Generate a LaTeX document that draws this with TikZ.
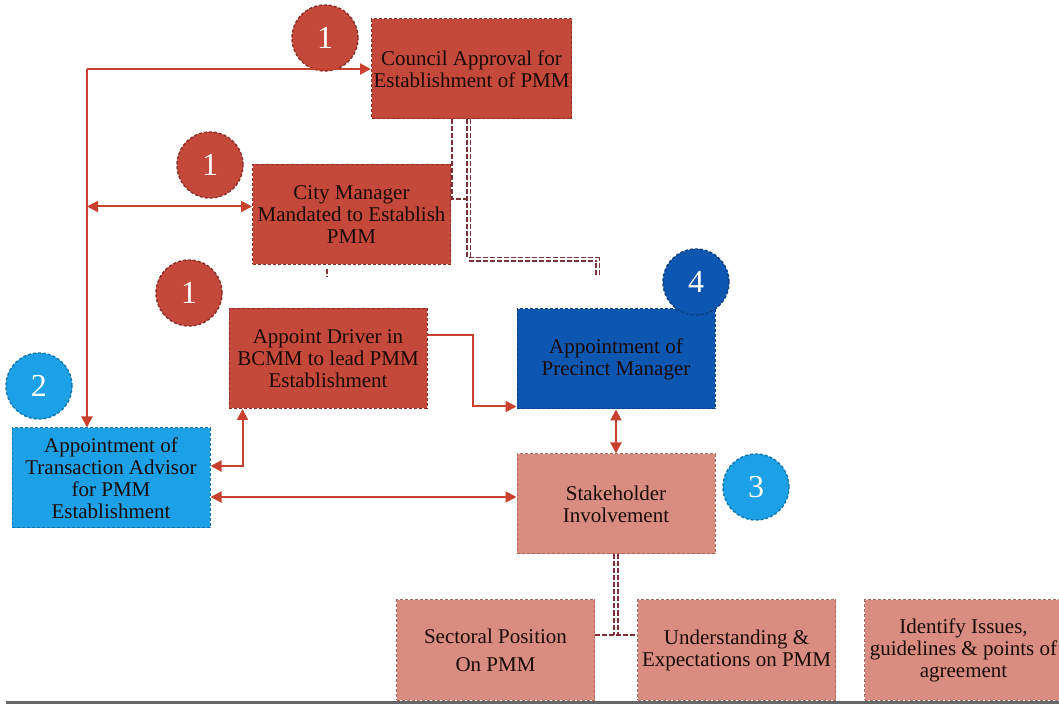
\documentclass[tikz,border=0pt]{standalone}
\usepackage{fontspec}
\setmainfont{Liberation Serif}
\usepackage{tikz}
\usetikzlibrary{arrows.meta,positioning,calc}
\definecolor{brick}{HTML}{C4493A}
\definecolor{brickdark}{HTML}{8A2C25}
\definecolor{maroon}{HTML}{7E2F33}
\definecolor{navy}{HTML}{0D57B0}
\definecolor{navydark}{HTML}{0A3F80}
\definecolor{sky}{HTML}{1CA0E6}
\definecolor{skydark}{HTML}{1276B0}
\definecolor{salmon}{HTML}{D98C80}
\definecolor{salmondark}{HTML}{B0665C}
\definecolor{arrowred}{HTML}{C8402E}
\definecolor{ink}{HTML}{1A0B09}

\begin{document}
\begin{tikzpicture}[x=0.5pt,y=-0.5pt,
  box/.style={rectangle,minimum width=99pt,minimum height=50pt,inner sep=1pt,
              align=center,text=ink,font=\fontsize{10.5}{11}\selectfont,
              dashed,dash pattern=on 1.5pt off 1pt,line width=0.5pt},
  redbox/.style={box,fill=brick,draw=brickdark},
  navybox/.style={box,fill=navy,draw=navydark},
  skybox/.style={box,fill=sky,draw=skydark},
  pinkbox/.style={box,fill=salmon,draw=salmondark},
  badge/.style={circle,minimum size=33pt,inner sep=0pt,text=white,
                font=\fontsize{16}{16}\selectfont,dashed,dash pattern=on 1.5pt off 1pt,
                line width=0.7pt},
  arr/.style={-{Triangle[length=5.5pt,width=5.5pt]},draw=arrowred,line width=1pt},
  dbl/.style={{Triangle[length=5.5pt,width=5.5pt]}-{Triangle[length=5.5pt,width=5.5pt]},
              draw=arrowred,line width=1pt},
  dsh/.style={draw=maroon,dashed,dash pattern=on 2.5pt off 1pt,line width=1pt},
  dshd/.style={draw=maroon,double=white,double distance=1pt,dashed,
               dash pattern=on 2.5pt off 1pt,line width=0.8pt}
]
\useasboundingbox (0,0) rectangle (1059,704);

% boxes
\node[redbox] (council) at (471.5,69) {Council Approval for\\Establishment of PMM};
\node[redbox] (city) at (351.5,214.5) {City Manager\\Mandated to Establish\\PMM};
\node[redbox] (driver) at (328,358.5) {Appoint Driver in\\BCMM to lead PMM\\Establishment};
\node[navybox] (precinct) at (616,359) {Appointment of\\Precinct Manager};
\node[skybox] (advisor) at (111,478) {Appointment of\\Transaction Advisor\\for PMM\\Establishment};
\node[pinkbox] (stake) at (616,504) {Stakeholder\\Involvement};
\node[pinkbox] (sect) at (495.5,650) {Sectoral Position\\[3pt]On PMM};
\node[pinkbox] (under) at (736.5,650) {Understanding \&\\Expectations on PMM};
\node[pinkbox] (issues) at (963.5,650) {Identify Issues,\\guidelines \& points of\\agreement};

% numbered badges
\node[badge,fill=brick,draw=brickdark] (b1a) at (325,38) {1};
\node[badge,fill=brick,draw=brickdark] (b1b) at (210,165) {1};
\node[badge,fill=brick,draw=brickdark] (b1c) at (189,293) {1};
\node[badge,fill=sky,draw=skydark] (b2) at (39,386) {2};
\node[badge,fill=navy,draw=navydark] (b4) at (696,282) {4};
\node[badge,fill=sky,draw=skydark] (b3) at (756,487) {3};

% arrows
\coordinate (corner) at (87,69);
\coordinate (cityin) at ([yshift=4pt]city.west);
\coordinate (advhi) at ([yshift=6pt]advisor.east);
\coordinate (advlo) at ([yshift=-9.5pt]advisor.east);
\draw[arr] (corner) -- (council.west);
\draw[arr] (corner) -- (corner |- advisor.north);
\draw[dbl] (corner |- cityin) -- (cityin);
\draw[dbl] (advhi) -| ([xshift=7pt]driver.south west);
\draw[dbl] (advlo) -- (advlo -| stake.west);
\draw[arr] ([yshift=11.75pt]driver.east) -- ++(45,0) |- ([yshift=1.5pt]precinct.south west);
\draw[dbl] (precinct.south) -- (stake.north);

% dashed links
\draw[dsh] ([xshift=-9.75pt]council.south) -- ++(0,80) -- ++(17,0);
\draw[dshd] ([xshift=-1.5pt]council.south) -- ++(0,140) -- ++(129,0) -- ++(0,17);
\draw[dsh] ([xshift=-12.25pt,yshift=-2pt]city.south) -- ++(0,8);
\draw[dshd] (stake.south) -- ++(0,80) coordinate (split);
\draw[dsh] (sect.east |- split) -- (under.west |- split);

% bottom rule
\draw[draw=gray!80!black,line width=1.5pt] (6,702) -- (1059,702);
\end{tikzpicture}
\end{document}
